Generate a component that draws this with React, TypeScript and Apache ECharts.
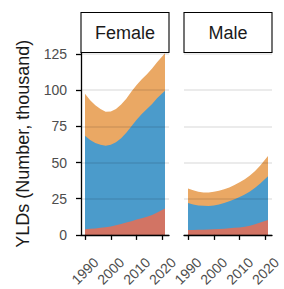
import React, { useEffect, useRef } from "react";
import * as echarts from "echarts";

const years = [1990, 1992, 1994, 1996, 1998, 2000, 2002, 2004, 2006, 2008, 2010, 2012, 2014, 2016, 2018, 2021];

const femaleRed = [3.9, 4.2, 4.5, 4.9, 5.3, 5.8, 6.6, 7.6, 8.6, 9.5, 10.6, 11.5, 12.5, 13.8, 15.5, 18.3];
const femaleBlue = [64.6, 61.3, 59.0, 57.4, 56.3, 56.4, 57.4, 59.2, 61.9, 65.5, 68.9, 72.0, 74.5, 76.7, 79.0, 81.2];
const femaleOrange = [29.0, 27.5, 26.0, 24.7, 23.4, 23.1, 23.0, 23.2, 23.5, 24.0, 24.0, 24.0, 24.0, 24.5, 25.0, 26.0];

const maleRed = [3.4, 3.4, 3.5, 3.6, 3.7, 3.9, 4.1, 4.3, 4.6, 4.9, 5.2, 5.7, 6.4, 7.3, 8.5, 10.3];
const maleBlue = [18.6, 17.6, 16.9, 16.5, 16.3, 16.5, 16.9, 17.7, 18.6, 19.7, 21.0, 22.3, 23.6, 25.2, 27.0, 30.2];
const maleOrange = [10.0, 9.8, 9.4, 9.2, 9.3, 9.4, 9.5, 9.5, 9.6, 9.8, 10.1, 10.4, 11.0, 11.7, 12.5, 14.0];

const xTicks = [1990, 2000, 2010, 2020];
const yTicks = [0, 25, 50, 75, 100, 125];
const panels = ["Female", "Male"];
const yTitle = "YLDs (Number, thousand)";

const FONT = "'Liberation Sans', Arial, Helvetica, sans-serif";
const COLORS = { red: "#D27464", blue: "#4B9BCB", orange: "#EAA864" };

export default function App() {
  const ref = useRef<HTMLDivElement>(null);
  useEffect(() => {
    if (!ref.current) return;
    const chart = echarts.init(ref.current, null, { renderer: "svg" });
    const gridW = 88;
    const gridTop = 52.5;
    const gridH = 182.5;
    const lefts = [81, 184];

    const xAxisBase = (gi: number) => ({
      type: "value",
      gridIndex: gi,
      min: 1988.45,
      max: 2022.55,
      axisLine: { show: true, lineStyle: { color: "#000", width: 1.3 } },
      axisTick: { show: true, length: 5, customValues: xTicks, lineStyle: { color: "#000", width: 1.3 } },
      axisLabel: {
        customValues: xTicks,
        formatter: (v: number) => String(v),
        rotate: 45,
        align: "center",
        verticalAlign: "middle",
        margin: 36,
        fontSize: 14,
        color: "#4d4d4d",
        fontFamily: FONT,
      },
      splitLine: { show: false },
      z: 10,
    });

    const yAxisBase = (gi: number) => ({
      type: "value",
      gridIndex: gi,
      min: 0,
      max: 126,
      axisLine: { show: gi === 0, lineStyle: { color: "#000", width: 1.3 } },
      axisTick: { show: gi === 0, length: 5, customValues: yTicks, lineStyle: { color: "#000", width: 1.3 } },
      axisLabel: {
        show: gi === 0,
        customValues: yTicks,
        margin: 14,
        fontSize: 14,
        color: "#4d4d4d",
        fontFamily: FONT,
      },
      splitLine: { show: true, lineStyle: { color: "rgba(0,0,0,0.08)", width: 1.8 } },
      name: gi === 0 ? yTitle : "",
      nameLocation: "middle",
      nameGap: 49,
      nameTextStyle: { fontSize: 18, color: "#1a1a1a", fontFamily: FONT },
      z: 10,
    });

    const cum = (...arrs: number[][]) => years.map((_, i) => arrs.reduce((s, a) => s + a[i], 0));

    const mk = (vals: number[], color: string, gi: number, z: number) => ({
      type: "line",
      xAxisIndex: gi,
      yAxisIndex: gi,
      data: years.map((y, i) => [y, +vals[i].toFixed(2)]),
      showSymbol: false,
      symbol: "none",
      lineStyle: { width: 0 },
      areaStyle: { color, opacity: 1, origin: "start" },
      z,
    });

    const graphics: any[] = [];
    panels.forEach((p, i) => {
      graphics.push({
        type: "rect",
        shape: { x: lefts[i], y: 12.5, width: gridW, height: 40 },
        style: { fill: "#fff", stroke: "#000", lineWidth: 1.1 },
      });
      graphics.push({
        type: "text",
        x: lefts[i] + gridW / 2,
        y: 32.5,
        style: {
          text: p,
          fontSize: 18,
          fontFamily: FONT,
          fill: "#1a1a1a",
          align: "center",
          verticalAlign: "middle",
        },
      });
    });

    chart.setOption({
      animation: false,
      backgroundColor: "#fff",
      grid: lefts.map((l) => ({ left: l, top: gridTop, width: gridW, height: gridH, containLabel: false })),
      xAxis: [xAxisBase(0), xAxisBase(1)],
      yAxis: [yAxisBase(0), yAxisBase(1)],
      series: [
        mk(cum(femaleRed, femaleBlue, femaleOrange), COLORS.orange, 0, 2),
        mk(cum(femaleRed, femaleBlue), COLORS.blue, 0, 3),
        mk(cum(femaleRed), COLORS.red, 0, 4),
        mk(cum(maleRed, maleBlue, maleOrange), COLORS.orange, 1, 2),
        mk(cum(maleRed, maleBlue), COLORS.blue, 1, 3),
        mk(cum(maleRed), COLORS.red, 1, 4),
      ],
      graphic: graphics,
    });
    return () => chart.dispose();
  }, []);
  return (
    <div
      ref={ref}
      style={{ position: "fixed", left: 0, top: 0, width: 284, height: 289 }}
    />
  );
}
